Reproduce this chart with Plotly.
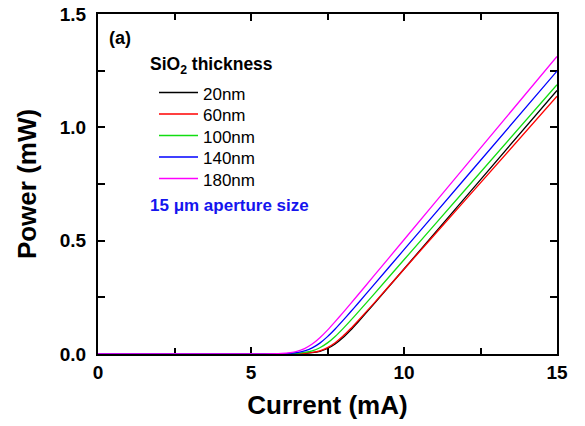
import plotly.graph_objects as go

# Drive current (mA)
current = [0, 5, 6, 6.5, 6.75, 7, 7.25, 7.5, 7.75, 8, 8.25, 8.5, 9, 10, 12, 15]

# Optical output power (mW) for each SiO2 thickness
power_20nm = [0, 0, 0.0002, 0.0011, 0.0025, 0.0056, 0.0121, 0.0243, 0.0441, 0.0716,
              0.1048, 0.1412, 0.218, 0.375, 0.690, 1.163]
power_60nm = [0, 0, 0.0003, 0.0014, 0.0031, 0.0068, 0.0143, 0.0281, 0.0495, 0.0779,
              0.1111, 0.1468, 0.2214, 0.3739, 0.6791, 1.137]
power_100nm = [0, 0, 0.0006, 0.0030, 0.0067, 0.0141, 0.0277, 0.0491, 0.0776, 0.1110,
               0.1471, 0.1847, 0.2611, 0.4156, 0.7246, 1.188]
power_140nm = [0, 0, 0.0013, 0.0064, 0.0136, 0.0269, 0.0481, 0.0766, 0.1104, 0.1472,
               0.1853, 0.2240, 0.3026, 0.4602, 0.7754, 1.248]
power_180nm = [0, 0.0001, 0.0025, 0.0119, 0.0240, 0.0438, 0.0717, 0.1054, 0.1426, 0.1815,
               0.2211, 0.2613, 0.3422, 0.5040, 0.8276, 1.313]

series_names = ["20nm", "60nm", "100nm", "140nm", "180nm"]
series_values = [power_20nm, power_60nm, power_100nm, power_140nm, power_180nm]
series_colors = ["#000000", "#ff0000", "#11dd11", "#0000ff", "#ff00ff"]

x_ticks = [0, 5, 10, 15]
y_ticks = [0.0, 0.5, 1.0, 1.5]
y_tick_text = ["0.0", "0.5", "1.0", "1.5"]

FONT = "Liberation Sans, Arial, sans-serif"

fig = go.Figure()
for name, vals, col in zip(series_names, series_values, series_colors):
    fig.add_trace(go.Scatter(
        x=current, y=vals, name=name, mode="lines", showlegend=False,
        line=dict(color=col, width=1.3, shape="spline", smoothing=0.4),
    ))

axis_common = dict(
    showline=True, linecolor="black", linewidth=2, mirror="ticks",
    ticks="inside", ticklen=7, tickwidth=1.5, tickcolor="black",
    showgrid=False, zeroline=False, layer="below traces",
    tickfont=dict(family=FONT, size=19, color="black", weight="bold"),
)

fig.update_xaxes(
    range=[0, 15], tickvals=x_ticks, automargin="bottom",
    minor=dict(ticks="inside", dtick=2.5, ticklen=6, tickwidth=1.5, tickcolor="black"),
    title=dict(text="<b>Current (mA)</b>", font=dict(family=FONT, size=26, color="black"),
               standoff=14),
    **axis_common,
)
fig.update_yaxes(
    range=[0, 1.5], tickvals=y_ticks, ticktext=y_tick_text, automargin="left",
    ticklabelstandoff=6,
    minor=dict(ticks="inside", dtick=0.25, ticklen=7, tickwidth=1.5, tickcolor="black"),
    title=dict(text="<b>Power (mW)</b>", font=dict(family=FONT, size=26, color="black"),
               standoff=16),
    **axis_common,
)

# Hand-placed legend block: heading, one key line + label per thickness, note below
L, B, W, H = 98, 354, 459, 340  # plot-area geometry in px


def px_x(p):
    return (p - L) / W


def px_y(p):
    return (B - p) / H


annotations = [
    dict(text="<b>(a)</b>", x=px_x(107), y=px_y(38), xanchor="left", yanchor="middle",
         font=dict(family=FONT, size=18, color="black")),
    dict(text="<b>SiO<sub>2</sub> thickness</b>", x=px_x(148), y=px_y(65),
         xanchor="left", yanchor="middle",
         font=dict(family=FONT, size=17.5, color="black")),
    dict(text="<b>15 \u03bcm aperture size</b>", x=px_x(148), y=px_y(205),
         xanchor="left", yanchor="middle",
         font=dict(family=FONT, size=17, color="#1515ee")),
]
shapes = []
row_y0, row_step = 92.5, 21.5
for i, (name, col) in enumerate(zip(series_names, series_colors)):
    yy = px_y(row_y0 + i * row_step)
    shapes.append(dict(type="line", xref="paper", yref="paper",
                       x0=px_x(159), x1=px_x(198), y0=yy, y1=yy,
                       line=dict(color=col, width=1.3)))
    annotations.append(dict(text=name, x=px_x(201), y=px_y(row_y0 + 1.5 + i * row_step),
                            xanchor="left", yanchor="middle",
                            font=dict(family=FONT, size=17, color="black")))

for a in annotations:
    a.update(xref="paper", yref="paper", showarrow=False)

fig.update_layout(
    width=585, height=426,
    margin=dict(l=98, r=28, t=14, b=72),
    paper_bgcolor="white", plot_bgcolor="white",
    font=dict(family=FONT, color="black"),
    annotations=annotations,
    shapes=shapes,
)

fig.write_html("out.html")
